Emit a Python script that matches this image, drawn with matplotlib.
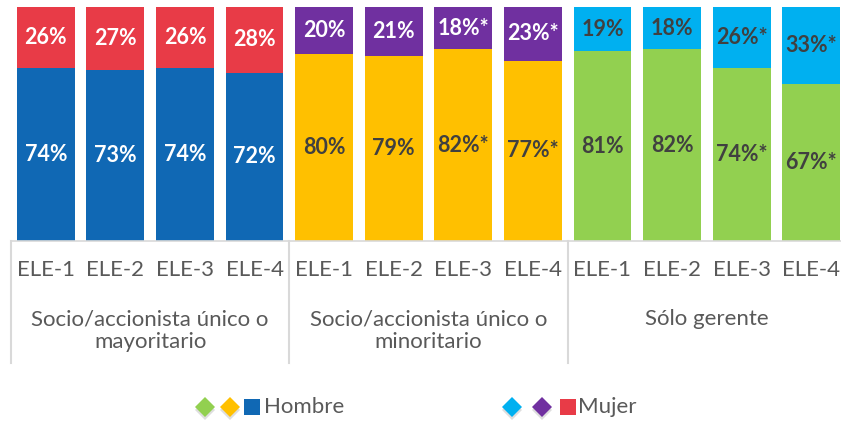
import matplotlib.pyplot as plt
from matplotlib.lines import Line2D

# datos
ediciones = ['ELE-1', 'ELE-2', 'ELE-3', 'ELE-4']
grupos = ['Socio/accionista único o\nmayoritario',
          'Socio/accionista único o\nminoritario',
          'Sólo gerente']
hombre = [74, 73, 74, 72, 80, 79, 82, 77, 81, 82, 74, 67]
mujer = [26, 27, 26, 28, 20, 21, 18, 23, 19, 18, 26, 33]
signif = [False, False, False, False, False, False, True, True, False, False, True, True]

col_hombre = ['#1068B4'] * 4 + ['#FFC000'] * 4 + ['#92D050'] * 4
col_mujer = ['#E83B47'] * 4 + ['#7030A0'] * 4 + ['#00B0F0'] * 4
txt_hombre = ['white'] * 4 + ['#404040'] * 8
txt_mujer = ['white'] * 8 + ['#404040'] * 4

plt.rcParams['font.family'] = ['Lato', 'DejaVu Sans']
W, H = 841, 422
fig = plt.figure(figsize=(W / 100, H / 100), dpi=100)
ax = fig.add_axes([11 / W, (H - 241) / H, 835 / W, 234 / H])

x = list(range(len(hombre)))
ax.bar(x, hombre, width=0.83, color=col_hombre)
ax.bar(x, mujer, width=0.83, bottom=hombre, color=col_mujer)

for i in x:
    star = '*' if signif[i] else ''
    ax.text(i, hombre[i] / 2, f'{hombre[i]}%{star}', ha='center', va='center',
            fontsize=15.5, fontweight='bold', color=txt_hombre[i])
    ax.text(i, hombre[i] + mujer[i] / 2, f'{mujer[i]}%{star}', ha='center', va='center',
            fontsize=15.5, fontweight='bold', color=txt_mujer[i])

ax.set_xlim(-0.5, 11.5)
ax.set_ylim(0, 100)
ax.axis('off')

gris = '#D9D9D9'
ax.plot([-0.5, 11.5], [0, 0], color=gris, lw=1.2, clip_on=False)
trans = ax.get_xaxis_transform()
for s in [-0.5, 3.5, 7.5, 11.5]:
    ax.plot([s, s], [0, -122 / 234], color=gris, lw=1.5, transform=trans, clip_on=False)

for i in x:
    ax.text(i, -29 / 234, ediciones[i % 4], transform=trans, ha='center', va='center',
            fontsize=16, color='#595959')
for g, nombre in enumerate(grupos):
    ax.text(g * 4 + 1.5, -68 / 234, nombre, transform=trans, ha='center', va='top',
            fontsize=16, color='#595959', linespacing=1.2)

# leyenda
ly = (H - 407) / H
for px, c, m in [(205, '#92D050', 'D'), (230, '#FFC000', 'D'), (252, '#1068B4', 's'),
                 (512, '#00B0F0', 'D'), (542, '#7030A0', 'D'), (568, '#E83B47', 's')]:
    ms = 10 if m == 'D' else 11
    if m == 'D':
        fig.add_artist(Line2D([px / W], [ly - 3 / H], marker=m, ms=ms, color='#C8C8C8',
                              markeredgewidth=0, alpha=0.6, transform=fig.transFigure))
    fig.add_artist(Line2D([px / W], [ly], marker=m, ms=ms, color=c,
                          markeredgewidth=0, transform=fig.transFigure))
fig.text(264 / W, ly, 'Hombre', ha='left', va='center', fontsize=16, color='#595959')
fig.text(578 / W, ly, 'Mujer', ha='left', va='center', fontsize=16, color='#595959')

fig.savefig('out.png', dpi=100)
